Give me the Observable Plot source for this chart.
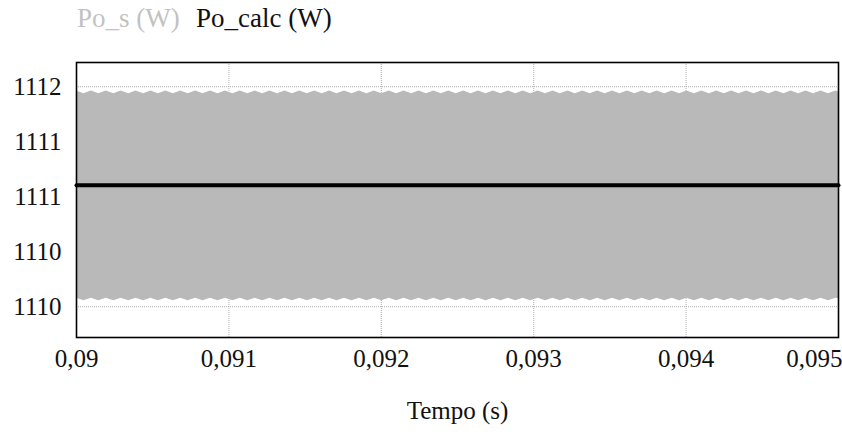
<!DOCTYPE html>
<html>
<head>
<meta charset="utf-8">
<script src="https://cdn.jsdelivr.net/npm/d3@7"></script>
<script src="https://cdn.jsdelivr.net/npm/@observablehq/plot@0.6"></script>
<style>
  html, body { margin: 0; padding: 0; background: #fff; }
  #legend { height: 45px; position: relative; font-family: "Liberation Serif", "DejaVu Serif", serif; font-size: 27px; }
  #legend span { position: absolute; top: 3px; white-space: pre; }
</style>
</head>
<body>
<div id="legend"></div>
<div id="chart"></div>
<script>
// Series names and colours
const seriesNames = ["Po_s (W)", "Po_calc (W)"];
const seriesColors = ["#b9b9b9", "#000000"];

// Time samples of the Po_s ripple envelope (s)
const timeS = [
  0.0900000, 0.0900489, 0.0900977, 0.0901466, 0.0901954, 0.0902443, 0.0902931, 0.0903420,
  0.0903908, 0.0904397, 0.0904885, 0.0905374, 0.0905862, 0.0906351, 0.0906839, 0.0907328,
  0.0907816, 0.0908305, 0.0908793, 0.0909282, 0.0909770, 0.0910259, 0.0910747, 0.0911236,
  0.0911724, 0.0912213, 0.0912701, 0.0913190, 0.0913678, 0.0914167, 0.0914655, 0.0915144,
  0.0915632, 0.0916121, 0.0916609, 0.0917098, 0.0917586, 0.0918075, 0.0918563, 0.0919052,
  0.0919540, 0.0920029, 0.0920517, 0.0921006, 0.0921494, 0.0921983, 0.0922471, 0.0922960,
  0.0923448, 0.0923937, 0.0924425, 0.0924914, 0.0925402, 0.0925891, 0.0926379, 0.0926868,
  0.0927356, 0.0927845, 0.0928333, 0.0928822, 0.0929310, 0.0929799, 0.0930287, 0.0930776,
  0.0931264, 0.0931753, 0.0932241, 0.0932730, 0.0933218, 0.0933707, 0.0934195, 0.0934684,
  0.0935172, 0.0935661, 0.0936149, 0.0936638, 0.0937126, 0.0937615, 0.0938103, 0.0938592,
  0.0939080, 0.0939569, 0.0940057, 0.0940546, 0.0941034, 0.0941523, 0.0942011, 0.0942500,
  0.0942988, 0.0943477, 0.0943965, 0.0944454, 0.0944942, 0.0945431, 0.0945919, 0.0946408,
  0.0946896, 0.0947385, 0.0947873, 0.0948362, 0.0948850, 0.0949339, 0.0949827, 0.0950000
];
// Upper envelope of Po_s (W)
const poSMax = [
  1111.962, 1111.936, 1111.962, 1111.936, 1111.962, 1111.936, 1111.962, 1111.936,
  1111.962, 1111.936, 1111.962, 1111.936, 1111.962, 1111.936, 1111.962, 1111.936,
  1111.962, 1111.936, 1111.962, 1111.936, 1111.962, 1111.936, 1111.962, 1111.936,
  1111.962, 1111.936, 1111.962, 1111.936, 1111.962, 1111.936, 1111.962, 1111.936,
  1111.962, 1111.936, 1111.962, 1111.936, 1111.962, 1111.936, 1111.962, 1111.936,
  1111.962, 1111.936, 1111.962, 1111.936, 1111.962, 1111.936, 1111.962, 1111.936,
  1111.962, 1111.936, 1111.962, 1111.936, 1111.962, 1111.936, 1111.962, 1111.936,
  1111.962, 1111.936, 1111.962, 1111.936, 1111.962, 1111.936, 1111.962, 1111.936,
  1111.962, 1111.936, 1111.962, 1111.936, 1111.962, 1111.936, 1111.962, 1111.936,
  1111.962, 1111.936, 1111.962, 1111.936, 1111.962, 1111.936, 1111.962, 1111.936,
  1111.962, 1111.936, 1111.962, 1111.936, 1111.962, 1111.936, 1111.962, 1111.936,
  1111.962, 1111.936, 1111.962, 1111.936, 1111.962, 1111.936, 1111.962, 1111.936,
  1111.962, 1111.936, 1111.962, 1111.936, 1111.962, 1111.936, 1111.962, 1111.955
];
// Lower envelope of Po_s (W)
const poSMin = [
  1110.077, 1110.053, 1110.077, 1110.053, 1110.077, 1110.053, 1110.077, 1110.053,
  1110.077, 1110.053, 1110.077, 1110.053, 1110.077, 1110.053, 1110.077, 1110.053,
  1110.077, 1110.053, 1110.077, 1110.053, 1110.077, 1110.053, 1110.077, 1110.053,
  1110.077, 1110.053, 1110.077, 1110.053, 1110.077, 1110.053, 1110.077, 1110.053,
  1110.077, 1110.053, 1110.077, 1110.053, 1110.077, 1110.053, 1110.077, 1110.053,
  1110.077, 1110.053, 1110.077, 1110.053, 1110.077, 1110.053, 1110.077, 1110.053,
  1110.077, 1110.053, 1110.077, 1110.053, 1110.077, 1110.053, 1110.077, 1110.053,
  1110.077, 1110.053, 1110.077, 1110.053, 1110.077, 1110.053, 1110.077, 1110.053,
  1110.077, 1110.053, 1110.077, 1110.053, 1110.077, 1110.053, 1110.077, 1110.053,
  1110.077, 1110.053, 1110.077, 1110.053, 1110.077, 1110.053, 1110.077, 1110.053,
  1110.077, 1110.053, 1110.077, 1110.053, 1110.077, 1110.053, 1110.077, 1110.053,
  1110.077, 1110.053, 1110.077, 1110.053, 1110.077, 1110.053, 1110.077, 1110.053,
  1110.077, 1110.053, 1110.077, 1110.053, 1110.077, 1110.053, 1110.077, 1110.072
];
// Po_calc (W) — constant
const timeCalc = [0.090, 0.095];
const poCalc = [1111.105, 1111.105];

// Axis ticks
const xTicks = [0.090, 0.091, 0.092, 0.093, 0.094, 0.095];
const yTicks = [1110, 1110.5, 1111, 1111.5, 1112];
const xLabel = "Tempo (s)";

// Build tables
const poS = timeS.map((t, i) => ({t, lo: poSMin[i], hi: poSMax[i]}));
const calc = timeCalc.map((t, i) => ({t, v: poCalc[i]}));

// Legend (HTML above the SVG)
const legend = document.getElementById("legend");
const lefts = [77, 196];
seriesNames.forEach((n, i) => {
  const s = document.createElement("span");
  s.textContent = n;
  s.style.left = lefts[i] + "px";
  s.style.color = i === 0 ? "#c2c2c2" : "#111";
  legend.appendChild(s);
});

const fmtX = d => String(+d.toFixed(3)).replace(".", ",");
const fmtY = d => String(Math.floor(d));
const font = "Liberation Serif, DejaVu Serif, serif";
const fs = 25;

const chart = Plot.plot({
  width: 842,
  height: 387,
  marginLeft: 76,
  marginRight: 4,
  marginTop: 17,
  marginBottom: 95,
  style: {fontFamily: font, fontSize: fs + "px", color: "#111", background: "#fff"},
  x: {domain: [0.09, 0.095], label: null, axis: null},
  y: {domain: [1109.72, 1112.22], label: null},
  marks: [
    Plot.ruleX(xTicks.slice(1, -1), {stroke: "#9a9a9a", strokeWidth: 0.8, strokeDasharray: "1,1"}),
    Plot.ruleY(yTicks, {stroke: "#9a9a9a", strokeWidth: 0.8, strokeDasharray: "1,1"}),
    Plot.areaY(poS, {x: "t", y1: "lo", y2: "hi", fill: seriesColors[0]}),
    Plot.lineY(calc, {x: "t", y: "v", stroke: seriesColors[1], strokeWidth: 4}),
    Plot.frame({stroke: "#000", strokeWidth: 1.6}),
    Plot.axisY(yTicks, {tickSize: 0, tickPadding: 15, tickFormat: fmtY, fontSize: fs}),
    Plot.text(xTicks.slice(0, -1), {x: d => d, frameAnchor: "bottom", dy: 21, text: fmtX, fontSize: fs, lineAnchor: "middle"}),
    Plot.text(xTicks.slice(-1), {x: d => d, frameAnchor: "bottom", dy: 21, text: fmtX, textAnchor: "end", dx: 4, fontSize: fs, lineAnchor: "middle"}),
    Plot.text([xLabel], {frameAnchor: "bottom", dy: 73, text: d => d, fontSize: fs, lineAnchor: "middle"})
  ]
});
document.getElementById("chart").appendChild(chart);
</script>
</body>
</html>
